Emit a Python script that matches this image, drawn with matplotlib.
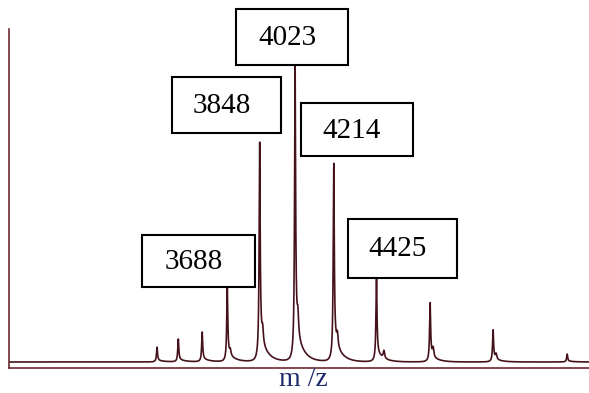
import matplotlib
matplotlib.use('Agg')
import matplotlib.pyplot as plt
from matplotlib.patches import Rectangle
import numpy as np

# main peaks of the spectrum (m/z, height in axis units)
peak_mz = [3341, 3446, 3564, 3688, 3848, 4023, 4214, 4425, 4690, 5001, 5367]
peak_int = [21, 29, 36, 81, 226, 303, 205, 91, 65, 38, 14]
# small shoulders on the right of the main peaks
shoulder_mz = [3703, 3863, 4037, 4232, 4462, 4705, 5016]
shoulder_int = [18, 36, 51, 33, 23, 26, 18]
baseline = 6

# labelled peaks and their boxes (figure pixels: left, right, top, bottom)
labels = ['3688', '3848', '4023', '4214', '4425']
label_boxes = [(142, 255, 235, 287), (172, 281, 77, 133), (236, 348, 9, 65),
               (301, 413, 103, 156), (348, 457, 219, 278)]

W, H = 589, 393
fig = plt.figure(figsize=(W / 100, H / 100), dpi=100)
ax = fig.add_axes([9 / W, (H - 368) / H, (W - 9) / W, 339 / H])

x = np.arange(2610, 5475, 0.5)
y = np.full_like(x, float(baseline))
for mz, h in zip(peak_mz, peak_int):
    a = h - baseline
    d = x - mz
    y += 0.9 * a * 3.0 ** 2 / (d ** 2 + 3.0 ** 2)
    # tails on both sides, longer on the right
    y += np.where(d > 0, a * 0.12 * np.exp(-d / 35.0), a * 0.05 * np.exp(d / 8.0))
for mz, h in zip(shoulder_mz, shoulder_int):
    d = x - mz
    y += (h - baseline) * 0.45 * 4.0 ** 2 / (d ** 2 + 4.0 ** 2)

ax.plot(x, y, color='#45121c', lw=1.2)
ax.set_xlim(2610, 5475)
ax.set_ylim(0, 339)
ax.set_xticks([])
ax.set_yticks([])
for s in ['top', 'right']:
    ax.spines[s].set_visible(False)
for s in ['left', 'bottom']:
    ax.spines[s].set_color('#6b2a30')
    ax.spines[s].set_linewidth(1.2)

for lab, (l, r, t, b) in zip(labels, label_boxes):
    rect = Rectangle((l / W, 1 - b / H), (r - l) / W, (b - t) / H,
                     transform=fig.transFigure, facecolor='white',
                     edgecolor='black', lw=1.5, zorder=5)
    fig.add_artist(rect)
    fig.text(((l + r) / 2 - 5) / W, 1 - ((t + b) / 2 + 1) / H, lab,
             ha='center', va='center', fontsize=21,
             family='Liberation Serif', color='black', zorder=6)

fig.text(303 / W, 1 - 380 / H, 'm /z', ha='center', va='center',
         fontsize=20, family='Liberation Serif', color='#1f2a6e')

fig.savefig('out.png', dpi=100)
